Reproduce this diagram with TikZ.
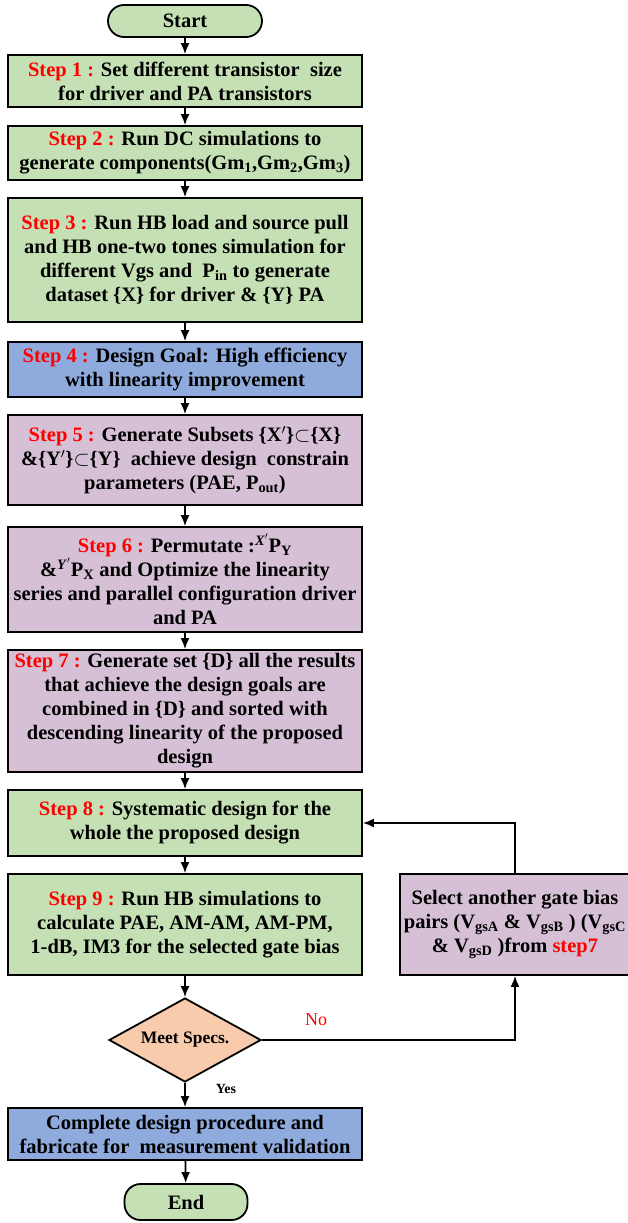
\documentclass[tikz,border=0pt]{standalone}
\usepackage{fontspec}
\setmainfont{Liberation Serif}
\usepackage{xcolor}
\usepackage{tikz}
\usetikzlibrary{positioning,shapes,arrows.meta,calc}

\definecolor{stepgreen}{HTML}{C5E0B4}
\definecolor{stepblue}{HTML}{8FAADC}
\definecolor{steppurple}{HTML}{D5C0D5}
\definecolor{steporange}{HTML}{F8CBAD}
\newcommand{\stepno}[1]{\textcolor{red}{Step #1 :}}

\begin{document}
\begin{tikzpicture}[x=1pt, y=-1pt,
    box/.style={draw, line width=1.8pt, minimum width=354pt, align=center, inner sep=2pt,
        font=\fontsize{20.5}{24}\selectfont\bfseries},
    term/.style={draw, line width=1.8pt, rounded corners=16pt, fill=stepgreen, align=center,
        font=\fontsize{20.5}{24}\selectfont\bfseries},
    decision/.style={draw, diamond, line width=1.8pt, fill=steporange, aspect=1.8, inner sep=1pt,
        minimum width=152pt, minimum height=84pt, font=\fontsize{17.5}{20}\selectfont\bfseries},
    arrow/.style={-{Latex[length=11pt,width=9pt]}, line width=1.8pt}]

    \useasboundingbox (0,0) rectangle (628,1223);

    % Start
    \node[term, minimum width=154pt, minimum height=32pt] (start) at (185,21) {Start};

    % Steps 1 to 3
    \node[box, fill=stepgreen, minimum height=52pt] (s1) at (185,81)
        {\stepno{1} Set different transistor\ \ size\\for driver and PA transistors};
    \node[box, fill=stepgreen, minimum height=54pt] (s2) at (185,153)
        {\stepno{2} Run DC simulations to\\generate components(Gm\textsubscript{1},Gm\textsubscript{2},Gm\textsubscript{3})};
    \node[box, fill=stepgreen, minimum height=124pt] (s3) at (185,260)
        {\stepno{3} Run HB load and source pull\\and HB one-two tones simulation for\\different Vgs and\ \ P\textsubscript{in} to generate\\dataset \{X\} for driver \& \{Y\} PA};

    % Design goal
    \node[box, fill=stepblue, minimum height=55pt] (s4) at (185,369.5)
        {\stepno{4} Design Goal: High efficiency\\with linearity improvement};

    % Steps 5 to 7
    \node[box, fill=steppurple, minimum height=90pt] (s5) at (185,460)
        {\stepno{5} Generate Subsets \{X$'$\}$\subset$\{X\}\\\&\{Y$'$\}$\subset$\{Y\}\ \ achieve design\ \ constrain\\parameters (PAE, P\textsubscript{out})};
    \node[box, fill=steppurple, minimum height=105pt] (s6) at (185,579.5)
        {\stepno{6} Permutate :\textsuperscript{\textit{X}$'$}P\textsubscript{Y}\\\&\textsuperscript{\textit{Y}$'$}P\textsubscript{X} and Optimize the linearity\\series and parallel configuration driver\\and PA};
    \node[box, fill=steppurple, minimum height=122pt] (s7) at (185,711)
        {\stepno{7} Generate set \{D\} all the results\\that achieve the design goals are\\combined in \{D\} and sorted with\\descending linearity of the proposed\\design};

    % Steps 8 and 9
    \node[box, fill=stepgreen, minimum height=66pt] (s8) at (185,823)
        {\stepno{8} Systematic design for the\\whole the proposed design};
    \node[box, fill=stepgreen, minimum height=101pt] (s9) at (185,924.5)
        {\stepno{9} Run HB simulations to\\calculate PAE, AM-AM, AM-PM,\\1-dB, IM3 for the selected gate bias};

    % Feedback box
    \node[box, fill=steppurple, minimum width=230pt, minimum height=101pt] (side) at (515,924.5)
        {Select another gate bias\\pairs (V\textsubscript{gsA} \& V\textsubscript{gsB} ) (V\textsubscript{gsC}\\\& V\textsubscript{gsD} )from \textcolor{red}{step7}};

    % Decision
    \node[decision] (spec) at (185,1040) {Meet Specs.};

    % Final steps
    \node[box, fill=stepblue, minimum height=52pt] (done) at (185,1134)
        {Complete design procedure and\\fabricate for\ \ measurement validation};
    \node[term, minimum width=123pt, minimum height=36pt] (end) at (186,1202) {End};

    % Connect components with arrows
    \draw[arrow] (start) -- (s1);
    \draw[arrow] (s1) -- (s2);
    \draw[arrow] (s2) -- (s3);
    \draw[arrow] (s3) -- (s4);
    \draw[arrow] (s4) -- (s5);
    \draw[arrow] (s5) -- (s6);
    \draw[arrow] (s6) -- (s7);
    \draw[arrow] (s7) -- (s8);
    \draw[arrow] (s8) -- (s9);
    \draw[arrow] (s9) -- (spec);
    \draw[arrow] (spec) -- (done);
    \draw[arrow] (done) -- (end);
    \draw[arrow] (spec.east) -| (side.south);
    \draw[arrow] (side.north) |- (s8.east);

    % Labels
    \node[text=red, font=\fontsize{18}{20}\selectfont] (lblno) at (316,1020) {No};
    \node[font=\fontsize{14}{16}\selectfont\bfseries] (lblyes) at (226,1089) {Yes};
\end{tikzpicture}
\end{document}
